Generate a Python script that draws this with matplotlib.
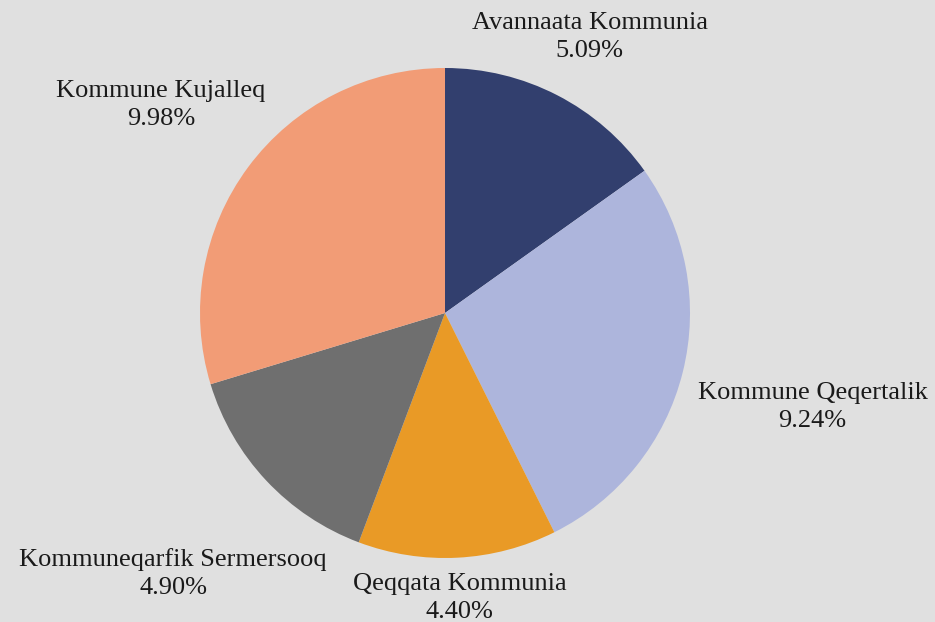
import numpy as np
import matplotlib.pyplot as plt

# data
names = ['Avannaata Kommunia', 'Kommune Qeqertalik', 'Qeqqata Kommunia',
         'Kommuneqarfik Sermersooq', 'Kommune Kujalleq']
values = [5.09, 9.24, 4.40, 4.90, 9.98]
colors = ['#323f6e', '#adb5dc', '#e99a26', '#6f6f6f', '#f29c76']

# label centres in pie units (radius = 1)
label_pos = [(0.59, 1.128), (1.50, -0.382), (0.06, -1.162), (-1.11, -1.062), (-1.16, 0.848)]

bg = '#e0e0e0'
fig = plt.figure(figsize=(9.35, 6.22), dpi=100, facecolor=bg)
ax = fig.add_axes([0, 0, 1, 1])
ax.set_facecolor(bg)

ax.pie(values, colors=colors, startangle=90, counterclock=False, radius=1,
       wedgeprops=dict(linewidth=0))

for name, v, (x, y) in zip(names, values, label_pos):
    ax.text(x, y, f'{name}\n{v:.2f}%', ha='center', va='center',
            fontsize=19, family='Liberation Serif', color='#1a1a1a',
            linespacing=1.35)

ax.set_xlim(-445 / 245, 490 / 245)
ax.set_ylim(-309 / 245, 313 / 245)
ax.set_aspect('equal')
ax.axis('off')

fig.savefig('out.png', dpi=100, facecolor=bg)
